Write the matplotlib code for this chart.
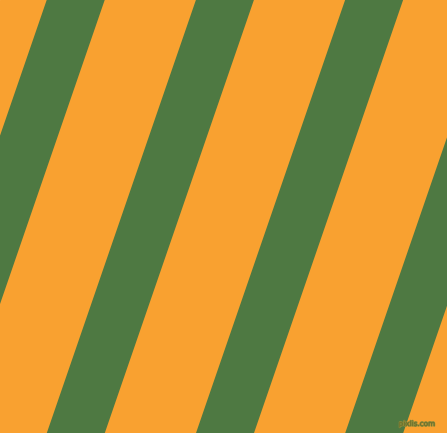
import numpy as np
import matplotlib
matplotlib.use("Agg")
import matplotlib.pyplot as plt
import matplotlib.patheffects as pe

# stripe pattern (pixels)
width_px, height_px = 447, 433
stripe_index = [-1, 0, 1, 2, 3, 4]
first_left = 46.7      # left edge of first green band at the top edge
period = 149.2         # horizontal repeat
band_width = 58.0      # horizontal width of a green band
angle_deg = 71.0

orange = "#F9A130"
green = "#4E7942"

fig = plt.figure(figsize=(width_px / 100, height_px / 100), dpi=100)
ax = fig.add_axes([0, 0, 1, 1])
ax.set_xlim(0, width_px)
ax.set_ylim(height_px, 0)
ax.axis("off")
ax.add_patch(plt.Rectangle((0, 0), width_px, height_px, color=orange, zorder=0))

shift = height_px / np.tan(np.radians(angle_deg))
for k in stripe_index:
    x0 = first_left + k * period
    xs = [x0, x0 + band_width, x0 + band_width - shift, x0 - shift]
    ys = [0, 0, height_px, height_px]
    ax.fill(xs, ys, color=green, lw=0, zorder=1)

ax.text(435, 426, "pixlis.com", fontsize=5.2, color="#6a6a28", ha="right",
        va="baseline", zorder=2,
        path_effects=[pe.withStroke(linewidth=1, foreground="#8a8a3a")])

fig.savefig("out.png", dpi=100)
